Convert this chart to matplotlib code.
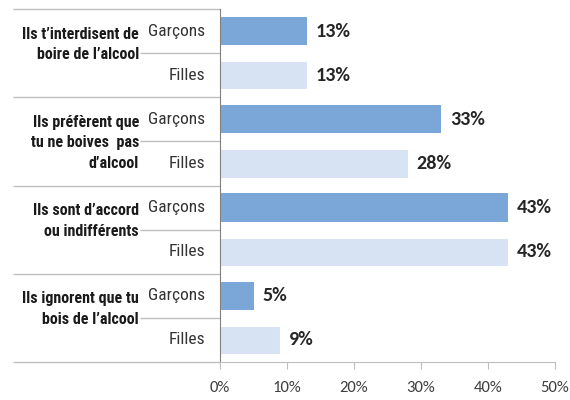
import matplotlib
matplotlib.use("Agg")
import matplotlib.pyplot as plt

groups = ["Ils t\u2019interdisent de\nboire de l\u2019alcool",
          "Ils pr\u00e9f\u00e8rent que\ntu ne boives  pas\nd\u2019alcool",
          "Ils sont d\u2019accord\nou indiff\u00e9rents",
          "Ils ignorent que tu\nbois de l\u2019alcool"]
sexes = ["Gar\u00e7ons", "Filles"]
garcons = [13, 33, 43, 5]
filles = [13, 28, 43, 9]
xticks = [0, 10, 20, 30, 40, 50]

dark = "#7BA6D8"
light = "#D7E2F2"

fig = plt.figure(figsize=(5.7, 4.0), dpi=100)
ax = fig.add_axes([220/570, 38/400, 335/570, 353/400])

narrow = ["Roboto Condensed", "DejaVu Sans"]
body = ["Carlito", "DejaVu Sans"]

for i, (g, f) in enumerate(zip(garcons, filles)):
    yg, yf = 2*i, 2*i + 1
    ax.barh(yg, g, height=0.64, color=dark, edgecolor="none")
    ax.barh(yf, f, height=0.64, color=light, edgecolor="white", linewidth=0.8)
    for y, v in ((yg, g), (yf, f)):
        ax.text(v + 1.3, y, f"{v}%", va="center", ha="left", fontsize=14.5,
                fontweight="bold", color="#262626", family=body)
    for y, s in ((yg, sexes[0]), (yf, sexes[1])):
        ax.text(-0.045, y, s, transform=ax.get_yaxis_transform(), ha="right",
                va="center", fontsize=12.5, color="#333333", family=narrow)

ax.set_xlim(0, 50)
ax.set_ylim(7.5, -0.5)

ytr = ax.get_yaxis_transform()
offsets = [-0.2, 0.03, -0.2, -0.2]
for i, (lab, off) in enumerate(zip(groups, offsets)):
    ax.text(-0.242, 2*i + 0.5 + off, lab, transform=ytr, ha="right", va="center",
            fontsize=11.5, fontweight="bold", color="#1a1a1a", family=narrow,
            linespacing=1.45)

lc = "#BFBFBF"
for k in range(5):
    ax.plot([-0.618, 0], [2*k - 0.5]*2, transform=ytr, color=lc, lw=1,
            clip_on=False, solid_capstyle="butt")
for k in range(4):
    ax.plot([-0.238, 0], [2*k + 0.5]*2, transform=ytr, color=lc, lw=1,
            clip_on=False, solid_capstyle="butt")

for s in ["top", "right"]:
    ax.spines[s].set_visible(False)
ax.spines["left"].set_color("#808080")
ax.spines["bottom"].set_color(lc)
ax.set_yticks([])
ax.set_xticks(xticks)
ax.set_xticklabels([f"{t}%" for t in xticks], fontsize=12, color="#404040",
                   family=body)
ax.tick_params(axis="x", length=5, color=lc, pad=9)

fig.savefig("out.png", dpi=100)
